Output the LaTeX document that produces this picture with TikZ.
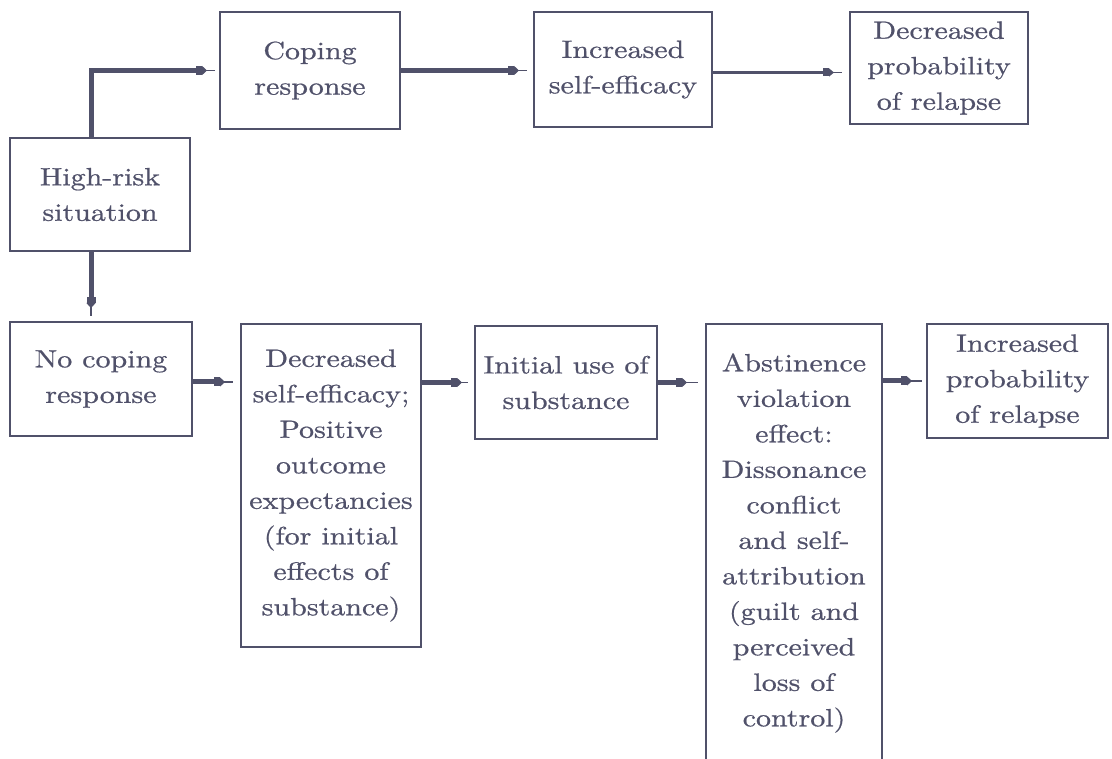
\documentclass[tikz,border=0pt]{standalone}
\usepackage{fontspec}
\setmainfont{lmroman10-regular.otf}[FakeStretch=1.2,FakeBold=0.7]
\usetikzlibrary{arrows.meta}
\definecolor{ink}{HTML}{50516A}
\tikzset{
  box/.style={draw=ink, line width=2pt, text=ink, align=center, inner sep=0pt, anchor=north west,
    font=\fontsize{25pt}{35.5pt}\selectfont},
  conn/.style={draw=ink, line width=5pt, -{Rectangle[length=6pt,width=9pt,sep=0pt]Triangle[length=5pt,width=9pt]}},
  slimconn/.style={draw=ink, line width=3.5pt, -{Rectangle[length=6pt,width=8pt,sep=0pt]Triangle[length=5pt,width=8pt]}},
  tail/.style={draw=ink, line width=1.8pt}
}
\begin{document}
\begin{tikzpicture}[x=1pt,y=-1pt]
\useasboundingbox[fill=white] (0,0) rectangle (1112,759);
% nodes
\node[box, minimum width=180pt, minimum height=113pt] (hr)    at (9,137)   {High-risk\\situation};
\node[box, minimum width=180pt, minimum height=117pt] (cop)   at (219,11)  {Coping\\response};
\node[box, minimum width=178pt, minimum height=115pt] (incse) at (533,11)  {Increased\\self-efficacy};
\node[box, minimum width=178pt, minimum height=112pt] (decp)  at (849,11)  {Decreased\\probability\\of relapse};
\node[box, minimum width=182pt, minimum height=114pt] (noc)   at (9,321)   {No coping\\response};
\node[box, minimum width=180pt, minimum height=323pt] (dse)   at (240,323) {Decreased\\self-efficacy;\\Positive\\outcome\\expectancies\\(for initial\\effects of\\substance)};
\node[box, minimum width=182pt, minimum height=113pt] (init)  at (474,325) {Initial use of\\substance};
\node[box, minimum width=176pt, minimum height=438pt] (abs)   at (705,323) {Abstinence\\violation\\effect:\\Dissonance\\conflict\\and self-\\attribution\\(guilt and\\perceived\\loss of\\control)};
\node[box, minimum width=181pt, minimum height=114pt] (incp)  at (926,323) {Increased\\probability\\of relapse};
% helper coordinates
\coordinate (s1) at ([xshift=-9pt]hr.north);
\coordinate (e1) at (cop.west);
\coordinate (s2) at (cop.east);
\coordinate (e2) at (s2 -| incse.west);
\coordinate (s3) at ([yshift=-3pt]incse.east);
\coordinate (e3) at (s3 -| decp.west);
\coordinate (s4) at ([xshift=-9pt]hr.south);
\coordinate (e4) at (s4 |- noc.north);
\coordinate (s5) at ([yshift=-3pt]noc.east);
\coordinate (e5) at (s5 -| dse.west);
\coordinate (s6) at (init.west -| dse.east);
\coordinate (e6) at (init.west);
\coordinate (s7) at (init.east);
\coordinate (e7) at (s7 -| abs.west);
\coordinate (s8) at (incp.west -| abs.east);
\coordinate (e8) at (incp.west);
% connectors: thin lead-in to the box, then thick shaft with head on top
\draw[tail] ([xshift=-24pt]e1) -- ([xshift=-4pt]e1);
\draw[conn] (s1) |- ([xshift=-12pt]e1);
\draw[tail] ([xshift=-26pt]e2) -- ([xshift=-6pt]e2);
\draw[conn] (s2) -- ([xshift=-14pt]e2);
\draw[tail] ([xshift=-27pt]e3) -- ([xshift=-7pt]e3);
\draw[slimconn] (s3) -- ([xshift=-15pt]e3);
\draw[tail] ([yshift=21pt]e4) -- ([yshift=5pt]e4);
\draw[conn] (s4) -- ([yshift=13pt]e4);
\draw[tail] ([xshift=-27pt]e5) -- ([xshift=-7pt]e5);
\draw[conn] (s5) -- ([xshift=-15pt]e5);
\draw[tail] ([xshift=-24pt]e6) -- ([xshift=-6pt]e6);
\draw[conn] (s6) -- ([xshift=-12pt]e6);
\draw[tail] ([xshift=-30pt]e7) -- ([xshift=-7pt]e7);
\draw[conn] (s7) -- ([xshift=-18pt]e7);
\draw[tail] ([xshift=-26pt]e8) -- ([xshift=-4pt]e8);
\draw[conn] (s8) -- ([xshift=-14pt]e8);
\end{tikzpicture}
\end{document}
